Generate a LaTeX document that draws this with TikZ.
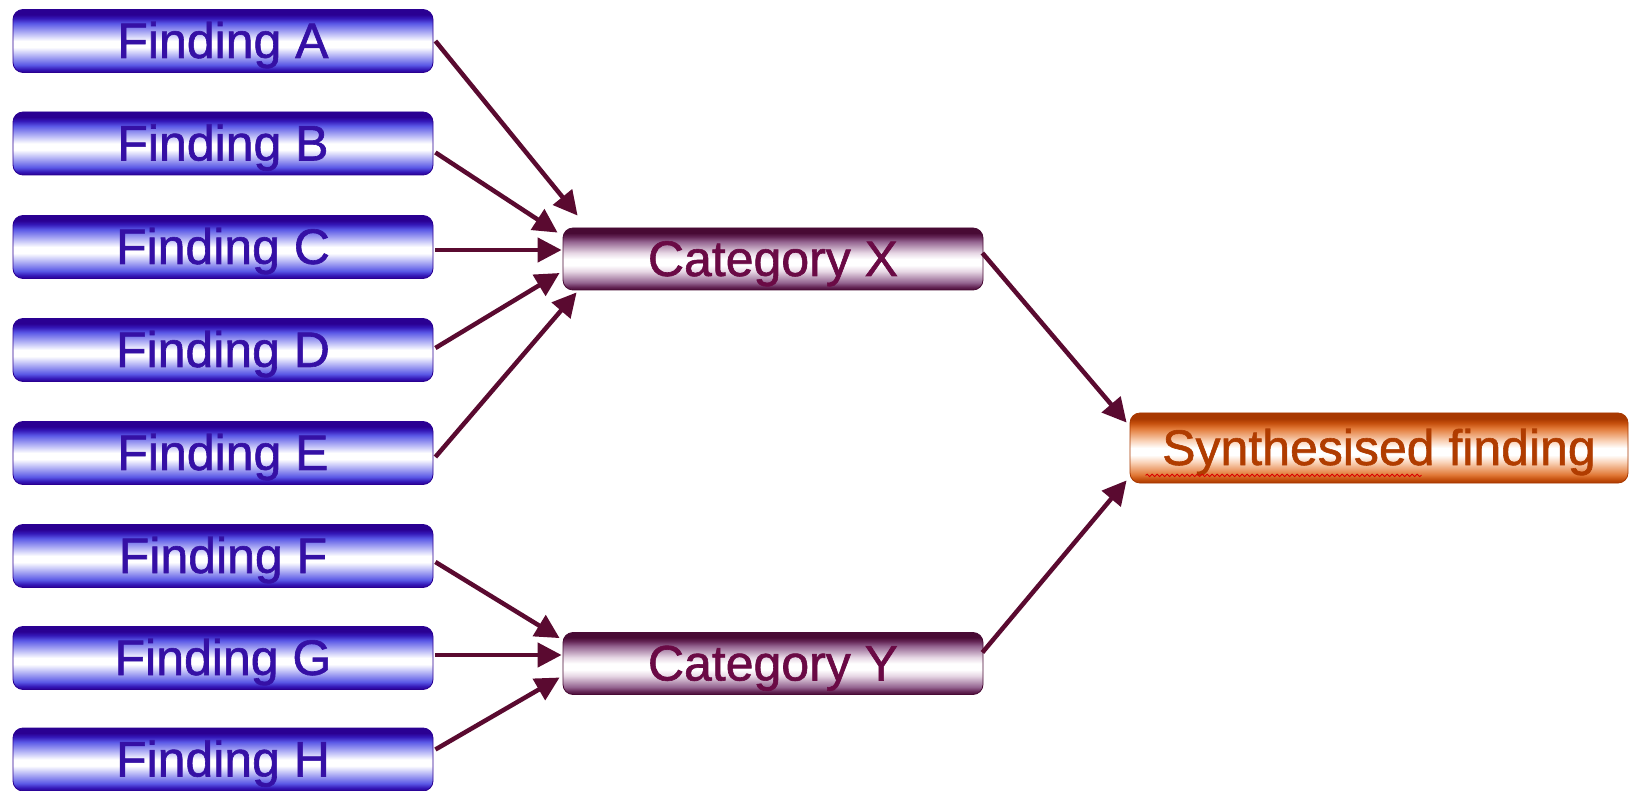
\documentclass[tikz,border=0pt]{standalone}
\usepackage{fontspec}
\setmainfont[FakeBold=1.2]{Liberation Sans}
\usetikzlibrary{arrows.meta,calc,decorations.pathmorphing}
\definecolor{fdark}{HTML}{2A0092}
\definecolor{fb1}{HTML}{3418B8}
\definecolor{fb2}{HTML}{5A58E6}
\definecolor{fb3}{HTML}{C4C4F8}
\definecolor{ftext}{HTML}{3510A5}
\definecolor{cdark}{HTML}{480A34}
\definecolor{cb1}{HTML}{642656}
\definecolor{cb2}{HTML}{946490}
\definecolor{cb3}{HTML}{E6D6E4}
\definecolor{ctext}{HTML}{6A0A45}
\definecolor{sdark}{HTML}{A83800}
\definecolor{sb1}{HTML}{C44E0C}
\definecolor{sb2}{HTML}{E27A38}
\definecolor{sb3}{HTML}{FAD4BA}
\definecolor{stext}{HTML}{B03C00}
\definecolor{arrcol}{HTML}{5A0A30}
\pgfdeclareverticalshading{findsh}{100bp}{color(0bp)=(fdark); color(25bp)=(fdark); color(27.5bp)=(fb1); color(31bp)=(fb2); color(40bp)=(fb3); color(45bp)=(white); color(50bp)=(white); color(55bp)=(fb3); color(64bp)=(fb2); color(68bp)=(fb1); color(71bp)=(fdark); color(100bp)=(fdark)}
\pgfdeclareverticalshading{catsh}{100bp}{color(0bp)=(cdark); color(25bp)=(cdark); color(27.5bp)=(cb1); color(31bp)=(cb2); color(40bp)=(cb3); color(45bp)=(white); color(50bp)=(white); color(55bp)=(cb3); color(64bp)=(cb2); color(68bp)=(cb1); color(71bp)=(cdark); color(100bp)=(cdark)}
\pgfdeclareverticalshading{synsh}{100bp}{color(0bp)=(sdark); color(25bp)=(sdark); color(27.5bp)=(sb1); color(31bp)=(sb2); color(40bp)=(sb3); color(45bp)=(white); color(50bp)=(white); color(55bp)=(sb3); color(64bp)=(sb2); color(68bp)=(sb1); color(71bp)=(sdark); color(100bp)=(sdark)}
\tikzset{
  bar/.style={rectangle, rounded corners=10pt, inner sep=0pt, line width=0.8pt,
    font=\fontsize{50}{50}\selectfont, text height=34pt, text depth=0pt, align=center},
  finding/.style={bar, shading=findsh, draw=fdark, text=ftext, minimum width=420pt, minimum height=63pt},
  category/.style={bar, shading=catsh, draw=cdark, text=ctext, minimum width=420pt, minimum height=62pt},
  synth/.style={bar, shading=synsh, draw=sdark, text=stext, minimum width=498pt, minimum height=70pt},
  arr/.style={draw=arrcol, line width=4.5pt, -{Triangle[length=24pt,width=24pt]}},
  wavy/.style={draw=red!85!black, line width=0.9pt, decorate, decoration={snake, amplitude=1.2pt, segment length=5pt}}
}
\begin{document}
\begin{tikzpicture}[x=1pt,y=-1pt]
\useasboundingbox (0,0) rectangle (1631,791);
\node[finding] (fa) at (223,41) {Finding A};
\node[finding] (fb) at (223,143.5) {Finding B};
\node[finding] (fc) at (223,247) {Finding C};
\node[finding] (fd) at (223,350) {Finding D};
\node[finding] (fe) at (223,453) {Finding E};
\node[finding] (ff) at (223,556) {Finding F};
\node[finding] (fg) at (223,658) {Finding G};
\node[finding] (fh) at (223,759.5) {Finding H};
\node[category] (cx) at (773,259) {Category X};
\node[category] (cy) at (773,663.5) {Category Y};
\node[synth] (sf) at (1379,448) {Synthesised finding};
\draw[wavy] ($(sf.south west)+(16,-8)$) coordinate (w1) -- ($(w1)+(276,0)$);
% to Category X
\draw[arr] ($(fa.east)+(2,0)$) -- ($(cx.north west)+(15,-12)$);
\draw[arr] ($(fb.east)+(2,9)$) -- ($(cx.north west)+(-5,5)$);
\draw[arr] ($(fc.east)+(2,3)$) -- ($(cx.west |- fc.east)+(-1,3)$);
\draw[arr] ($(fd.east)+(2,-2)$) -- ($(cx.west)+(-3,14)$);
\draw[arr] ($(fe.east)+(2,4)$) -- ($(cx.south west)+(14,2)$);
% to Category Y
\draw[arr] ($(ff.east)+(2,6)$) -- ($(cy.north west)+(-3,6)$);
\draw[arr] ($(fg.east)+(2,-3)$) -- ($(cy.west |- fg.east)+(-1,-3)$);
\draw[arr] ($(fh.east)+(2,-10)$) -- ($(cy.west)+(-3,14)$);
% to synthesised finding
\draw[arr] ($(cx.east)+(-1,-6)$) -- ($(sf.north west)+(-3,10)$);
\draw[arr] ($(cy.east)+(-1,-11)$) -- ($(sf.south west)+(-3,-3)$);
\end{tikzpicture}
\end{document}
